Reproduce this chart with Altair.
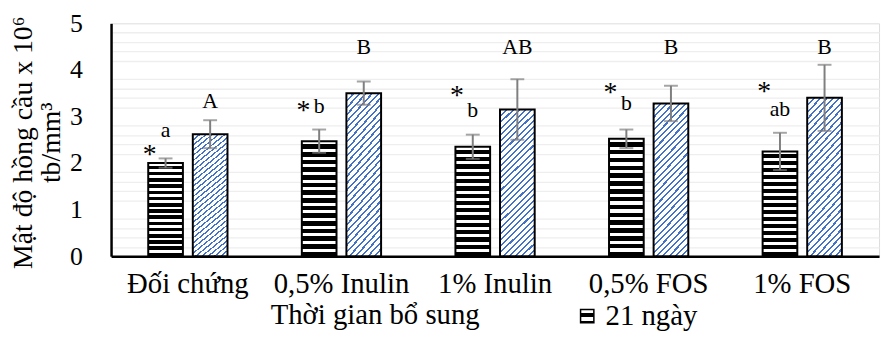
import altair as alt
import pandas as pd

# ---- data ----
cats = ["Đối chứng", "0,5% Inulin", "1% Inulin", "0,5% FOS", "1% FOS"]
series_names = ["21 ngày", "42 ngày"]
mean_21 = [2.00, 2.47, 2.35, 2.52, 2.25]
err_21 = [0.10, 0.25, 0.26, 0.20, 0.40]
mean_42 = [2.62, 3.50, 3.15, 3.28, 3.40]
err_42 = [0.30, 0.25, 0.65, 0.38, 0.71]
letters_21 = ["a", "b", "b", "b", "ab"]
letter_y_21 = [2.70, 3.23, 3.13, 3.28, 3.17]
letters_42 = ["A", "B", "AB", "B", "B"]
letter_y_42 = [3.34, 4.50, 4.50, 4.50, 4.50]
star_y = [2.28, 3.23, 3.55, 3.60, 3.62]
y_ticks = [0, 1, 2, 3, 4, 5]
minor_ticks = [0.2, 0.4, 0.6, 0.8, 1.2, 1.4, 1.6, 1.8, 2.2, 2.4, 2.6, 2.8,
               3.2, 3.4, 3.6, 3.8, 4.2, 4.4, 4.6, 4.8]

S1, S2 = series_names
rows = []
for i, c in enumerate(cats):
    rows.append(dict(cat=c, series=S1, mean=mean_21[i], lo=mean_21[i] - err_21[i],
                     hi=mean_21[i] + err_21[i], letter=letters_21[i], ly=letter_y_21[i],
                     star=star_y[i]))
    rows.append(dict(cat=c, series=S2, mean=mean_42[i], lo=mean_42[i] - err_42[i],
                     hi=mean_42[i] + err_42[i], letter=letters_42[i], ly=letter_y_42[i],
                     star=None))
df = pd.DataFrame(rows)

FONT = "Liberation Serif"

# ---- pattern fills (gradients with hard stops) ----
def stripes(n, c1, c2, frac):
    stops = []
    for i in range(n):
        a = i / n
        b = (i + frac) / n
        e = (i + 1) / n
        stops += [alt.GradientStop(offset=a, color=c1), alt.GradientStop(offset=b, color=c1),
                  alt.GradientStop(offset=b, color=c2), alt.GradientStop(offset=e, color=c2)]
    return stops

grad_h = alt.LinearGradient(gradient="linear", x1=0, y1=0, x2=0, y2=1,
                            stops=stripes(15, "white", "black", 0.42))
grad_d = alt.LinearGradient(gradient="linear", x1=0, y1=0, x2=0.28, y2=1.2,
                            stops=stripes(30, "#4472c4", "white", 0.33))

x = alt.X("cat:N", sort=cats,
          scale=alt.Scale(paddingInner=0.484, paddingOuter=0.242),
          axis=alt.Axis(title="Thời gian bổ sung", labelAngle=0, labelFont=FONT,
                        labelFontSize=29, labelColor="black", labelPadding=14,
                        ticks=False, domainColor="black", domainWidth=2.5,
                        titleFont=FONT, titleFontSize=29, titleFontWeight="normal",
                        titleColor="black", titleX=266, titleY=68,
                        titleAlign="center", titleBaseline="alphabetic",
                        labelLimit=0))
xo = alt.XOffset("series:N", sort=series_names,
                 scale=alt.Scale(paddingInner=0.222, paddingOuter=0))
yscale = alt.Scale(domain=[0, 5], nice=False)
y = alt.Y("mean:Q", scale=yscale,
          axis=alt.Axis(values=y_ticks, labelOverlap=False,
                        gridColor="#d9d9d9", gridWidth=1.3, ticks=False,
                        domainColor="black", domainWidth=2.5,
                        labelFont=FONT, labelFontSize=26, labelColor="black",
                        labelPadding=29,
                        title=["Mật độ hồng cầu x 10⁶", "tb/mm³"], titleFont=FONT,
                        titleFontSize=28, titleFontWeight="normal", titleColor="black",
                        titleAngle=-90, titleX=-80, titleY=120, titleAlign="center",
                        titleBaseline="alphabetic", titleLineHeight=28))

base = alt.Chart(df)

# faint minor gridlines on an independent (identical) y scale
minor = base.mark_point(opacity=0).encode(
    y=alt.Y("mean:Q", scale=yscale,
            axis=alt.Axis(values=minor_ticks, orient="right", labels=False, ticks=False,
                          domain=False, title=None, gridColor="#eeeeee", gridWidth=1.3)))

bars21 = base.transform_filter(alt.datum.series == S1).mark_bar(
    fill=grad_h, strokeWidth=2).encode(
    x=x, xOffset=xo, y=y,
    stroke=alt.Stroke("series:N", scale=alt.Scale(domain=[S1], range=["black"]),
                      legend=alt.Legend(title=None, orient="none", legendX=466, legendY=281,
                                        labelFont=FONT, labelFontSize=29, labelColor="black",
                                        symbolType="square", symbolSize=180,
                                        symbolStrokeColor="black",
                                        symbolStrokeWidth=1.5, labelLimit=0, padding=0,
                                        labelOffset=4)))

bars42 = base.transform_filter(alt.datum.series == S2).mark_bar(
    fill=grad_d, stroke="black", strokeWidth=2).encode(x=x, xOffset=xo, y=alt.Y("mean:Q"))

ecol = "#7f7f7f"
rule = base.mark_rule(color=ecol, strokeWidth=2).encode(
    x=x, xOffset=xo, y=alt.Y("lo:Q"), y2="hi:Q")
cap_lo = base.mark_tick(color=ecol, thickness=2, size=14).encode(
    x=x, xOffset=xo, y=alt.Y("lo:Q"))
cap_hi = base.mark_tick(color=ecol, thickness=2, size=14).encode(
    x=x, xOffset=xo, y=alt.Y("hi:Q"))

letters = base.mark_text(font=FONT, fontSize=22, color="black", baseline="middle").encode(
    x=x, xOffset=xo, y=alt.Y("ly:Q"), text="letter:N")

stars = base.transform_filter(alt.datum.series == S1).mark_text(
    font=FONT, fontSize=28, color="black", baseline="middle", dx=-16, dy=5).encode(
    x=x, xOffset=xo, y=alt.Y("star:Q"), text=alt.value("*"))

main = alt.layer(bars21, bars42, rule, cap_lo, cap_hi, letters, stars)

chart = alt.layer(minor, main).resolve_scale(y="independent").properties(
    width=775, height=235,
    autosize=alt.AutoSizeParams(type="none"),
    padding={"left": 104, "top": 14, "right": 6, "bottom": 75},
).configure_view(stroke=None).configure(background="white")

chart.save("out.html", embed_options={"renderer": "svg", "actions": False})
